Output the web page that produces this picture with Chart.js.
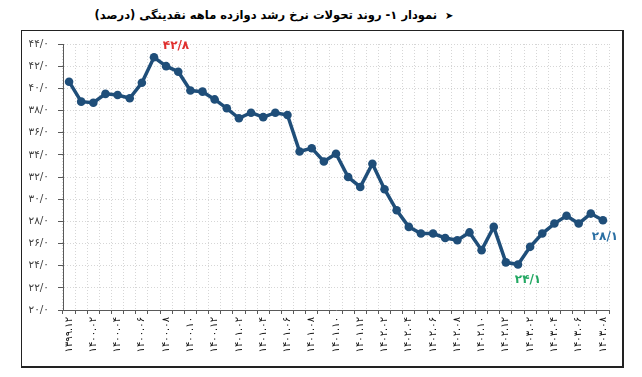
<!DOCTYPE html>
<html>
<head>
<meta charset="utf-8">
<script src="https://cdn.jsdelivr.net/npm/chart.js@4"></script>
<style>
  html, body { margin: 0; padding: 0; background: #fff; }
  #wrap { position: relative; width: 642px; height: 377px; overflow: hidden; }
  #title { position: absolute; left: 0; top: 8px; width: 548px; text-align: center;
           font: bold 11.5px "DejaVu Sans"; direction: rtl; color: #000; }
  #title span { font-size: 10px; margin-left: 8px; }
  #frame { position: absolute; left: 21px; top: 30px; width: 600px; height: 335px;
           border: 1px solid #222; border-right-width: 2px; border-bottom-width: 2px; }
  canvas { position: absolute; left: 0; top: 0; }
</style>
</head>
<body>
<div id="wrap">
  <div id="title"><span>➤</span>نمودار ۱- روند تحولات نرخ رشد دوازده ماهه نقدینگی (درصد)</div>
  <div id="frame"></div>
  <canvas id="myChart" width="642" height="377"></canvas>
</div>
<script>
// months (year.month), shown in Persian digits
const months = [
  '1399.12',
  '1400.01', '1400.02', '1400.03', '1400.04', '1400.05', '1400.06',
  '1400.07', '1400.08', '1400.09', '1400.10', '1400.11', '1400.12',
  '1401.01', '1401.02', '1401.03', '1401.04', '1401.05', '1401.06',
  '1401.07', '1401.08', '1401.09', '1401.10', '1401.11', '1401.12',
  '1402.01', '1402.02', '1402.03', '1402.04', '1402.05', '1402.06',
  '1402.07', '1402.08', '1402.09', '1402.10', '1402.11', '1402.12',
  '1403.01', '1403.02', '1403.03', '1403.04', '1403.05', '1403.06',
  '1403.07', '1403.08'
];

// twelve-month liquidity growth (percent)
const growth = [
  40.6, 38.8, 38.7, 39.5, 39.4, 39.1, 40.5, 42.8, 42.0, 41.5,
  39.8, 39.7, 39.0, 38.2, 37.3, 37.8, 37.4, 37.8, 37.6, 34.3,
  34.6, 33.4, 34.1, 32.0, 31.1, 33.2, 30.9, 29.0, 27.5, 26.9,
  26.9, 26.5, 26.3, 27.0, 25.4, 27.5, 24.3, 24.1, 25.7, 26.9,
  27.8, 28.5, 27.8, 28.7, 28.1
];

const yTicks = [20, 22, 24, 26, 28, 30, 32, 34, 36, 38, 40, 42, 44];

// points that get a value label: max, min, last
const highlights = [7, 37, 44];
const highlightColors = ['#e0302e', '#22a862', '#2a6fa3'];

const faDigits = '۰۱۲۳۴۵۶۷۸۹';
const toFa = s => String(s).replace(/[0-9]/g, d => faDigits[d]);
const fmt = v => toFa(v.toFixed(1).replace('.', '/'));

const ctx = document.getElementById('myChart');

const valueLabels = {
  id: 'valueLabels',
  afterDatasetsDraw(chart) {
    const c = chart.ctx;
    const pts = chart.getDatasetMeta(0).data;
    const offsets = [[22, -11], [10, 15], [2, 17]];
    c.save();
    c.font = 'bold 12px "DejaVu Sans"';
    c.textAlign = 'center';
    c.textBaseline = 'middle';
    highlights.forEach((i, k) => {
      c.fillStyle = highlightColors[k];
      c.fillText(fmt(growth[i]), pts[i].x + offsets[k][0], pts[i].y + offsets[k][1]);
    });
    c.restore();
  }
};

new Chart(ctx, {
  type: 'line',
  data: {
    labels: months.map(toFa),
    datasets: [{
      data: growth,
      borderColor: '#1f4e79',
      backgroundColor: '#1f4e79',
      borderWidth: 3.5,
      pointRadius: 4.3,
      pointBorderWidth: 0,
      pointBackgroundColor: '#1f4e79',
      tension: 0
    }]
  },
  options: {
    responsive: false,
    animation: false,
    layout: { padding: { left: 0, top: 44, right: 33, bottom: 7 } },
    plugins: { legend: { display: false }, tooltip: { enabled: false } },
    scales: {
      x: {
        offset: true,
        afterFit: s => { s.height = 60; },
        grid: { offset: true, color: '#d6d6d6', tickColor: '#595959', tickLength: 4, drawTicks: true },
        border: { color: '#595959', width: 1, dash: [1, 2] },
        ticks: {
          autoSkip: false,
          minRotation: 90,
          maxRotation: 90,
          padding: 3,
          color: '#111',
          font: { family: 'DejaVu Sans', size: 10 },
          callback: (v, i) => (i % 2 === 0 ? toFa(months[i]) : '')
        }
      },
      y: {
        min: 20,
        max: 44,
        afterFit: s => { s.width = 63; },
        afterBuildTicks: s => { s.ticks = yTicks.map(v => ({ value: v })); },
        grid: { color: '#d6d6d6', tickColor: '#595959', tickLength: 5 },
        border: { color: '#595959', width: 1, dash: [1, 2] },
        ticks: {
          padding: 9,
          color: '#404040',
          font: { family: 'DejaVu Sans', size: 10.5 },
          callback: v => fmt(v)
        }
      }
    }
  },
  plugins: [valueLabels]
});
</script>
</body>
</html>
